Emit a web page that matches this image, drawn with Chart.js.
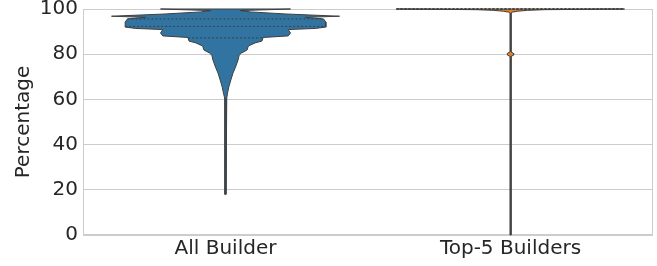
<!DOCTYPE html>
<html><head><meta charset="utf-8">
<script src="https://cdn.jsdelivr.net/npm/chart.js@4/dist/chart.umd.min.js"></script>
<style>html,body{margin:0;padding:0;background:#fff}#wrap{width:657px;height:266px}</style>
</head><body><div id="wrap"><canvas id="c" width="657" height="266"></canvas></div>
<script>
const categories = ['All Builder', 'Top-5 Builders'];
const yTicks = [0, 20, 40, 60, 80, 100];

// violin profile: value levels and normalised density (1 = widest)
const allLevels  = [100, 99.3, 98.7, 97.8, 96.8, 96.3, 95.6, 94.2, 92.0, 91.4, 90.9, 89.4, 88.1, 87.4, 85.8, 85.0, 83.6, 81.9, 80.5, 79.6, 77.4, 74.3, 71.7, 68.6, 65.5, 62.8, 60.6, 58.8, 18];
const allDensity = [0.57, 0.13, 0.22, 0.53, 1.00, 0.70, 0.86, 0.88, 0.88, 0.79, 0.55, 0.57, 0.55, 0.33, 0.32, 0.26, 0.20, 0.19, 0.14, 0.12, 0.11, 0.088, 0.066, 0.047, 0.029, 0.018, 0.011, 0.0045, 0.0045];
const allQuartiles = [95.6, 92.3, 87.2];

const topLevels  = [100, 99.7, 99.4, 99.0, 98.6, 98.2, 81, 80.4, 80, 79.6, 79, 0];
const topDensity = [1.00, 0.30, 0.15, 0.06, 0.015, 0.0045, 0.0045, 0.025, 0.03, 0.025, 0.0045, 0.0045];
const topQuartiles = [100, 100, 100];

const colors = ['#3274a1', '#e1812c'];
const edge = '#3f3f3f';
const halfWidth = 0.4;

function interp(levels, dens, v) {
  for (let i = 0; i < levels.length - 1; i++) {
    const a = levels[i], b = levels[i + 1];
    if (v <= a && v >= b) {
      const t = (a - v) / (a - b || 1);
      return dens[i] + t * (dens[i + 1] - dens[i]);
    }
  }
  return dens[0];
}

function violin(center, levels, dens, color) {
  const pts = [];
  for (let i = 0; i < levels.length; i++) pts.push({x: center + dens[i] * halfWidth, y: levels[i]});
  for (let i = levels.length - 1; i >= 0; i--) pts.push({x: center - dens[i] * halfWidth, y: levels[i]});
  pts.push(pts[0]);
  return {data: pts, showLine: true, fill: 'shape', backgroundColor: color, borderColor: edge,
          borderWidth: 1, pointRadius: 0, tension: 0, order: 2, clip: 3};
}
function quartLines(center, levels, dens, qs) {
  return qs.map(q => {
    const d = interp(levels, dens, q) * halfWidth;
    return {data: [{x: center - d, y: q}, {x: center + d, y: q}], showLine: true, fill: false,
            borderColor: edge, borderWidth: 1, borderDash: [2, 2], pointRadius: 0, order: 1, clip: 3};
  });
}

const datasets = [
  violin(0, allLevels, allDensity, colors[0]),
  violin(1, topLevels, topDensity, colors[1]),
  ...quartLines(0, allLevels, allDensity, allQuartiles),
  ...quartLines(1, topLevels, topDensity, topQuartiles)
];

const frame = {
  id: 'frame',
  beforeDatasetsDraw(chart) {
    const {ctx, chartArea: a} = chart;
    ctx.save();
    ctx.strokeStyle = '#cccccc';
    ctx.lineWidth = 1;
    ctx.strokeRect(Math.round(a.left) + 0.5, Math.round(a.top) + 0.5, Math.round(a.right - a.left) - 1, Math.round(a.bottom - a.top) - 1);
    ctx.restore();
  }
};

const font = {family: 'DejaVu Sans', size: 20};
new Chart(document.getElementById('c'), {
  type: 'scatter',
  data: {datasets},
  options: {
    responsive: false, animation: false,
    layout: {padding: {top: 0, right: 4, left: 0, bottom: 0}},
    plugins: {legend: {display: false}, tooltip: {enabled: false}},
    scales: {
      x: {
        type: 'linear', min: -0.5, max: 1.5,
        afterBuildTicks: s => { s.ticks = categories.map((_, i) => ({value: i})); },
        ticks: {callback: v => categories[v], color: '#262626', font, padding: 2, maxRotation: 0, autoSkip: false},
        grid: {display: false, drawTicks: false},
        border: {display: false},
        afterFit: s => { s.height = 31; }
      },
      y: {
        min: 0, max: 100,
        afterBuildTicks: s => { s.ticks = yTicks.map(v => ({value: v})); },
        ticks: {color: '#262626', font, padding: 5},
        grid: {color: '#cccccc', drawTicks: false, lineWidth: 1},
        border: {display: false},
        title: {display: true, text: 'Percentage', color: '#262626', font, padding: {top: 12, bottom: 4}},
        afterFit: s => { s.width = 83; s.paddingTop = 9; s.paddingBottom = 0; }
      }
    }
  },
  plugins: [frame]
});
</script></body></html>
